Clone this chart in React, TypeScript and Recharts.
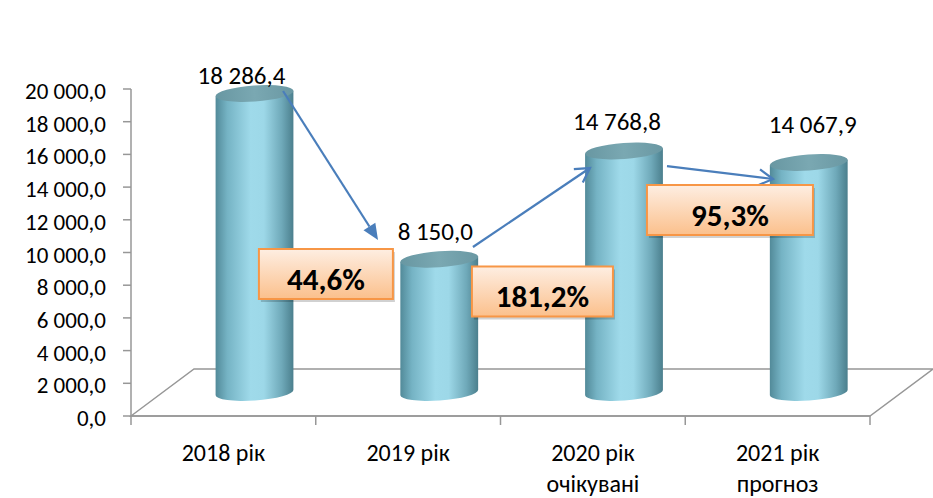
import React from 'react';
import { ComposedChart, Bar, XAxis, YAxis, ReferenceLine, ReferenceDot } from 'recharts';

// ---- data ----
const categories = ['2018 рік', '2019 рік', '2020 рік', '2021 рік'];
const categorySubtitles = ['', '', 'очікувані', 'прогноз'];
const values = [18286.4, 8150.0, 14768.8, 14067.9];
const yTicks = [0, 2000, 4000, 6000, 8000, 10000, 12000, 14000, 16000, 18000, 20000];
const growthLabels = ['44,6%', '181,2%', '95,3%'];

// annotation anchors (data coordinates: x = category position, y = value)
const growthBoxX = [0.555, 1.727, 2.742];
const growthBoxY = [8685, 7615, 12599];
const arrowFromX = [0.323, 1.351, 2.401];
const arrowFromY = [19878, 10336, 15290];
const arrowToX = [0.837, 1.984, 2.975];
const arrowToY = [10765, 15168, 14495];

// ---- styling ----
const FONT = "Carlito, Calibri, Lato, 'Noto Sans', sans-serif";
const AXIS = '#979797';
const ARROW = '#4a7ebb';
const DEPTH_DX = 63;
const DEPTH_DY = -47;
const RY = 8;
const TILT = 4; // degrees
const labelNudges = [[-13, -10], [-4, -19], [-7, -21], [4, -29]];
const boxWidths = [134, 141, 166];
const arrowHeads = ['filled', 'open', 'open'];

const data = values.map((v, i) => ({ pos: i, value: v, name: categories[i] }));
const xTicks = [-0.5, 0, 0.5, 1, 1.5, 2, 2.5, 3, 3.5];

function fmt(v: number): string {
  const [ip, dp] = v.toFixed(1).split('.');
  const withSpaces = ip.replace(/\B(?=(\d{3})+(?!\d))/g, '\u00a0');
  return withSpaces + ',' + dp;
}

const Cylinder = (props: any) => {
  const { x, y, width, height, payload } = props;
  const idx = props.index ?? payload?.pos ?? 0;
  const cx = x + width / 2 + DEPTH_DX / 2;
  const top = y + DEPTH_DY / 2;
  const bottom = y + height + DEPTH_DY / 2;
  const rx = width / 2;
  const t = (TILT * Math.PI) / 180;
  const ax = rx * Math.cos(t);
  const ay = rx * Math.sin(t);
  const gid = `cylBody${idx}`;
  const tid = `cylTop${idx}`;
  const d = `M${cx - ax},${top + ay} L${cx - ax},${bottom + ay} A${rx},${RY} ${-TILT} 0 0 ${cx + ax},${bottom - ay} L${cx + ax},${top - ay} Z`;
  const nudge = labelNudges[idx] || [0, -20];
  return (
    <g>
      <defs>
        <linearGradient id={gid} x1="0" y1="0" x2="1" y2="0">
          <stop offset="0%" stopColor="#528a99" />
          <stop offset="15%" stopColor="#75b3c4" />
          <stop offset="45%" stopColor="#9fdaea" />
          <stop offset="62%" stopColor="#9dd8e8" />
          <stop offset="85%" stopColor="#6fa9b9" />
          <stop offset="100%" stopColor="#4b7f8d" />
        </linearGradient>
        <linearGradient id={tid} x1="0" y1="0" x2="1" y2="0">
          <stop offset="0%" stopColor="#6897a2" />
          <stop offset="50%" stopColor="#7aa8b2" />
          <stop offset="100%" stopColor="#6a98a3" />
        </linearGradient>
      </defs>
      <path d={d} fill={`url(#${gid})`} />
      <ellipse cx={cx} cy={top} rx={rx} ry={RY} fill={`url(#${tid})`} transform={`rotate(${-TILT} ${cx} ${top})`} />
      <text x={cx + nudge[0]} y={top + nudge[1]} textAnchor="middle" fontFamily={FONT} fontSize={25} fill="#000">
        {fmt(values[idx])}
      </text>
    </g>
  );
};

const Floor = (props: any) => {
  const { x1, y1, x2, y2 } = props;
  const pts = `${x1},${y1} ${x1 + DEPTH_DX},${y1 + DEPTH_DY} ${x2 + DEPTH_DX},${y2 + DEPTH_DY} ${x2},${y2}`;
  return <polygon points={pts} fill="#fff" stroke={AXIS} strokeWidth={1.5} />;
};

const makeArrow = (i: number) => (props: any) => {
  const { x1, y1, x2, y2 } = props;
  const dx = x2 - x1;
  const dy = y2 - y1;
  const len = Math.sqrt(dx * dx + dy * dy) || 1;
  const ux = dx / len;
  const uy = dy / len;
  const nx = -uy;
  const ny = ux;
  if (arrowHeads[i] === 'filled') {
    const L = 16;
    const W = 14;
    const bx = x2 - ux * L;
    const by = y2 - uy * L;
    return (
      <g>
        <line x1={x1} y1={y1} x2={bx} y2={by} stroke={ARROW} strokeWidth={2.25} />
        <polygon points={`${x2},${y2} ${bx + (nx * W) / 2},${by + (ny * W) / 2} ${bx - (nx * W) / 2},${by - (ny * W) / 2}`} fill={ARROW} />
      </g>
    );
  }
  const L = 14;
  const W = 16;
  const bx = x2 - ux * L;
  const by = y2 - uy * L;
  return (
    <g>
      <line x1={x1} y1={y1} x2={x2} y2={y2} stroke={ARROW} strokeWidth={2.25} />
      <polyline
        points={`${bx + (nx * W) / 2},${by + (ny * W) / 2} ${x2},${y2} ${bx - (nx * W) / 2},${by - (ny * W) / 2}`}
        fill="none"
        stroke={ARROW}
        strokeWidth={2.25}
        strokeLinejoin="miter"
      />
    </g>
  );
};

const makeBox = (i: number) => (props: any) => {
  const { cx, cy } = props;
  const w = boxWidths[i];
  const h = 50;
  const gid = `boxGrad${i}`;
  return (
    <g>
      <defs>
        <linearGradient id={gid} x1="0" y1="0" x2="0" y2="1">
          <stop offset="0%" stopColor="#feeee2" />
          <stop offset="100%" stopColor="#fbc08c" />
        </linearGradient>
      </defs>
      <rect x={cx - w / 2 + 2} y={cy - h / 2 + 3} width={w} height={h} fill="rgba(0,0,0,0.18)" />
      <rect x={cx - w / 2} y={cy - h / 2} width={w} height={h} fill={`url(#${gid})`} stroke="#f79646" strokeWidth={2} />
      <text x={cx} y={cy + 16} textAnchor="middle" fontFamily={FONT} fontWeight={700} fontSize={31} fill="#000">
        {growthLabels[i]}
      </text>
    </g>
  );
};

const XTick = (props: any) => {
  const { x, y, payload } = props;
  const v = payload?.value;
  if (Math.abs(v - Math.round(v)) > 0.01) {
    return <line x1={x} y1={y} x2={x} y2={y + 9} stroke={AXIS} strokeWidth={1.5} />;
  }
  const i = Math.round(v);
  return (
    <g>
      <text x={x} y={y + 45} textAnchor="middle" fontFamily={FONT} fontSize={24} fill="#000">
        {categories[i]}
      </text>
      {categorySubtitles[i] ? (
        <text x={x} y={y + 76} textAnchor="middle" fontFamily={FONT} fontSize={24} fill="#000">
          {categorySubtitles[i]}
        </text>
      ) : null}
    </g>
  );
};

const YTick = (props: any) => {
  const { x, y, payload } = props;
  return (
    <text x={x} y={y + 10} textAnchor="end" fontFamily={FONT} fontSize={23} fill="#000">
      {fmt(payload.value)}
    </text>
  );
};

export default function App() {
  return (
    <div style={{ position: 'absolute', left: 0, top: 0, width: 933, height: 498, background: '#fff' }}>
      <ComposedChart width={933} height={498} data={data} margin={{ top: 89, right: 63, bottom: 0, left: 0 }}>
        <XAxis
          dataKey="pos"
          type="number"
          domain={[-0.5, 3.5]}
          ticks={xTicks}
          interval={0}
          tickSize={0}
          tickMargin={0}
          height={82}
          axisLine={{ stroke: AXIS, strokeWidth: 1.5 }}
          tickLine={false}
          tick={<XTick />}
        />
        <YAxis
          type="number"
          domain={[0, 20000]}
          ticks={yTicks}
          interval={0}
          width={131}
          tickSize={8}
          tickMargin={17}
          axisLine={{ stroke: AXIS, strokeWidth: 1.5 }}
          tickLine={{ stroke: AXIS, strokeWidth: 1.5 }}
          tick={<YTick />}
        />
        <ReferenceLine segment={[{ x: -0.5, y: 0 }, { x: 3.5, y: 0 }]} shape={Floor} zIndex={-10} />
        <Bar dataKey="value" barSize={78} shape={Cylinder} isAnimationActive={false} />
        {arrowFromX.map((_, i) => (
          <ReferenceLine
            key={`arrow${i}`}
            segment={[
              { x: arrowFromX[i], y: arrowFromY[i] },
              { x: arrowToX[i], y: arrowToY[i] },
            ]}
            shape={makeArrow(i)}
            zIndex={1500}
          />
        ))}
        {growthLabels.map((_, i) => (
          <ReferenceDot key={`box${i}`} x={growthBoxX[i]} y={growthBoxY[i]} r={0} shape={makeBox(i)} zIndex={1600} />
        ))}
      </ComposedChart>
    </div>
  );
}
